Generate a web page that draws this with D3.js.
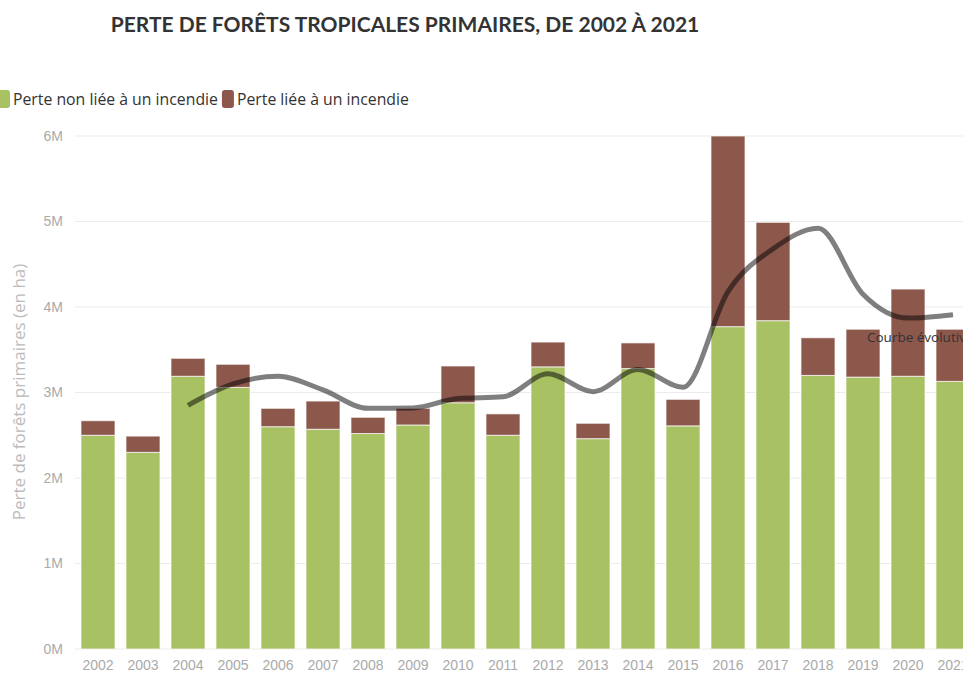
<!DOCTYPE html>
<html lang="fr">
<head>
<meta charset="utf-8">
<script src="https://cdn.jsdelivr.net/npm/d3@7"></script>
<style>
  html, body { margin: 0; padding: 0; background: #fff; overflow: hidden; }
  svg { display: block; font-family: "Open Sans", "Noto Sans", sans-serif; }
</style>
</head>
<body>
<svg id="chart" width="963" height="673"></svg>
<script>
// Années couvertes
const years = ["2002","2003","2004","2005","2006","2007","2008","2009","2010","2011",
               "2012","2013","2014","2015","2016","2017","2018","2019","2020","2021"];
// Perte non liée à un incendie (ha)
const nonFire = [2.50e6, 2.30e6, 3.19e6, 3.06e6, 2.60e6, 2.57e6, 2.52e6, 2.62e6, 2.88e6, 2.50e6,
                 3.30e6, 2.46e6, 3.28e6, 2.61e6, 3.77e6, 3.84e6, 3.20e6, 3.18e6, 3.19e6, 3.13e6];
// Perte liée à un incendie (ha)
const fire = [0.17e6, 0.19e6, 0.21e6, 0.27e6, 0.215e6, 0.33e6, 0.19e6, 0.195e6, 0.43e6, 0.25e6,
              0.29e6, 0.18e6, 0.30e6, 0.31e6, 2.23e6, 1.15e6, 0.44e6, 0.56e6, 1.02e6, 0.61e6];
// Courbe évolutive (à partir de 2004)
const trendYears = ["2004","2005","2006","2007","2008","2009","2010","2011","2012",
                    "2013","2014","2015","2016","2017","2018","2019","2020","2021"];
const trend = [2.85e6, 3.10e6, 3.19e6, 3.03e6, 2.815e6, 2.82e6, 2.93e6, 2.95e6, 3.22e6,
               3.01e6, 3.27e6, 3.06e6, 4.18e6, 4.68e6, 4.92e6, 4.15e6, 3.87e6, 3.91e6];
const yTicks = [0, 1e6, 2e6, 3e6, 4e6, 5e6, 6e6];
const seriesNames = ["Perte non liée à un incendie", "Perte liée à un incendie"];
const colors = ["#a8c162", "#8c584c"];

const svg = d3.select("#chart");

const x = d3.scaleBand().domain(years).range([75.5, 975.5]).paddingInner(0.244).paddingOuter(0.122);
const y = d3.scaleLinear().domain([0, 6e6]).range([649, 136]);

// Titre
svg.append("text")
  .attr("x", 405).attr("y", 32)
  .attr("text-anchor", "middle")
  .attr("font-family", "Lato, 'Open Sans', sans-serif")
  .attr("font-size", 21).attr("font-weight", 700)
  .attr("fill", "#333")
  .text("PERTE DE FORÊTS TROPICALES PRIMAIRES, DE 2002 À 2021");

// Légende
const legend = svg.append("g");
let lx = -2;
seriesNames.forEach((name, i) => {
  legend.append("rect")
    .attr("x", lx).attr("y", 90).attr("width", 12).attr("height", 18)
    .attr("rx", 3).attr("fill", colors[i]);
  const t = legend.append("text")
    .attr("x", lx + 15).attr("y", 105)
    .attr("font-size", 15.8).attr("fill", "#333")
    .text(name);
  lx += 15 + t.node().getComputedTextLength() + 4;
});

// Grille
svg.append("g").selectAll("line").data(yTicks).join("line")
  .attr("x1", 75).attr("x2", 963)
  .attr("y1", d => y(d)).attr("y2", d => y(d))
  .attr("stroke", "#ebebeb").attr("stroke-width", 1);

// Axe Y
const yAxis = svg.append("g").attr("transform", "translate(63,0)")
  .call(d3.axisLeft(y).tickValues(yTicks).tickSize(0).tickPadding(0)
        .tickFormat(d => (d / 1e6) + "M"));
yAxis.select(".domain").remove();
yAxis.selectAll("text").attr("font-size", 14).attr("font-stretch", "condensed").attr("fill", "#aaa");

svg.append("text")
  .attr("transform", "translate(25,392) rotate(-90)")
  .attr("text-anchor", "middle")
  .attr("font-size", 17).attr("fill", "#bbb")
  .text("Perte de forêts primaires (en ha)");

// Axe X
const xAxis = svg.append("g").attr("transform", "translate(0,649)")
  .call(d3.axisBottom(x).tickSize(0).tickPadding(11));
xAxis.select(".domain").remove();
xAxis.selectAll("text").attr("font-size", 14).attr("font-stretch", "condensed").attr("fill", "#aaa");

// Barres empilées
const rows = years.map((yr, i) => ({ year: yr, nonFire: nonFire[i], fire: fire[i] }));
const stack = d3.stack().keys(["nonFire", "fire"])(rows);
svg.append("g").selectAll("g").data(stack).join("g")
  .attr("fill", (d, i) => colors[i])
  .selectAll("rect").data(d => d).join("rect")
    .attr("x", d => x(d.data.year))
    .attr("width", x.bandwidth())
    .attr("y", d => y(d[1]))
    .attr("height", d => y(d[0]) - y(d[1]))
    .attr("stroke", "#fff").attr("stroke-opacity", 0.7).attr("stroke-width", 1);

// Courbe évolutive
const line = d3.line()
  .x((d, i) => x(trendYears[i]) + x.bandwidth() / 2)
  .y(d => y(d))
  .curve(d3.curveMonotoneX);
svg.append("path")
  .datum(trend)
  .attr("d", line)
  .attr("fill", "none")
  .attr("stroke", "#000").attr("stroke-opacity", 0.5)
  .attr("stroke-width", 5);

svg.append("text")
  .attr("x", 867).attr("y", 342)
  .attr("font-size", 13.5).attr("fill", "#333")
  .text("Courbe évolutive");
</script>
</body>
</html>
